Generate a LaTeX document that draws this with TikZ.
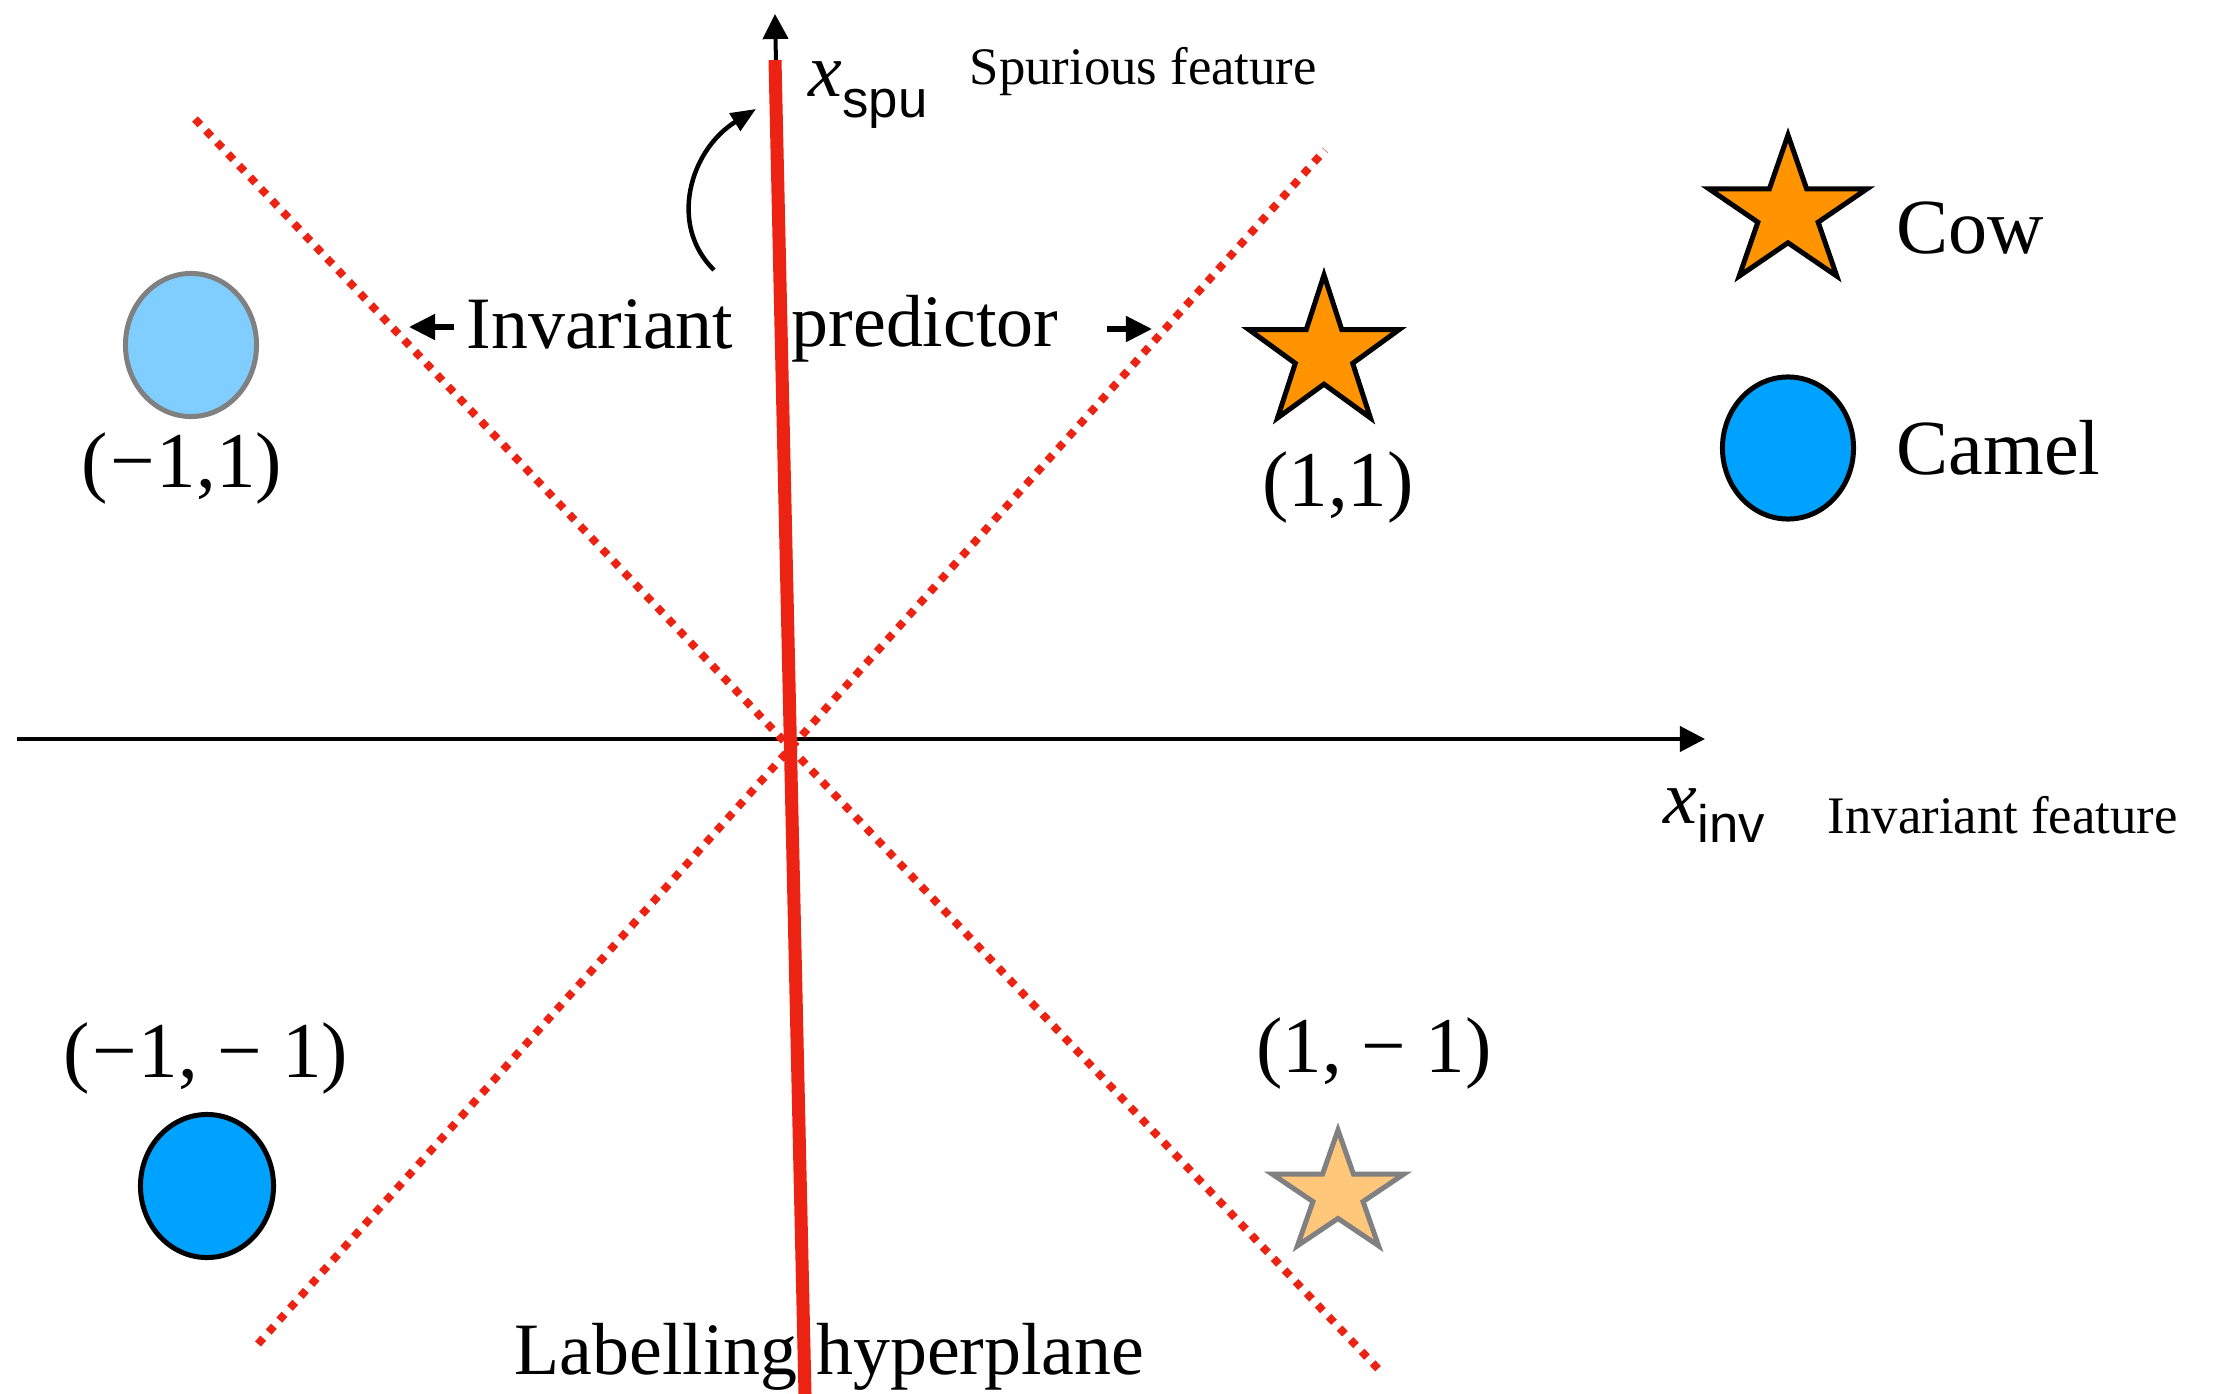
\documentclass[tikz,border=0pt]{standalone}
\usepackage{fontspec}
\setmainfont{Liberation Serif}
\setsansfont{Liberation Sans}
\usetikzlibrary{arrows.meta}
\definecolor{redl}{RGB}{236,34,18}
\definecolor{cowor}{RGB}{255,148,0}
\definecolor{cowlt}{RGB}{255,199,122}
\definecolor{camelb}{RGB}{0,162,255}
\definecolor{camellt}{RGB}{128,206,255}
\definecolor{edgegray}{RGB}{128,128,128}
\tikzset{
  starshape/.pic={\path[pic actions] (90:1) -- (126:0.382) -- (162:1) -- (198:0.382) -- (234:1) -- (270:0.382) -- (306:1) -- (342:0.382) -- (18:1) -- (54:0.382) -- cycle;},
  axisline/.style={line width=0.04cm, -{Triangle[length=0.25cm,width=0.25cm]}},
  hyper/.style={draw=redl, line width=0.13cm},
  predline/.style={draw=redl, line width=0.078cm, dash pattern=on 0.078cm off 0.082cm},
  smallarrow/.style={line width=0.05cm, -{Triangle[length=0.26cm,width=0.25cm]}},
  bigtxt/.style={inner sep=0pt, anchor=base west, font=\fontsize{21}{25}\selectfont},
  legtxt/.style={inner sep=0pt, anchor=base west, font=\fontsize{22.2}{27}\selectfont},
  ptlabel/.style={inner sep=0pt, anchor=base, font=\fontsize{22.5}{27}\selectfont},
  smalltxt/.style={inner sep=0pt, anchor=base west, font=\fontsize{15}{18}\selectfont},
  dark/.style={draw=black, line width=0.05cm, line join=miter},
  faded/.style={draw=edgegray, line width=0.05cm, line join=miter},
}
\newcommand{\mns}{\hspace{0.02cm}−\hspace{0.02cm}}
\begin{document}
\begin{tikzpicture}[x=0.01cm,y=0.01cm]
\useasboundingbox (0,0) rectangle (2214,-1394);
\fill[white] (0,0) rectangle (2214,-1394);

% key points
\coordinate (O) at (790,-739);
\coordinate (xL) at (17,-739);
\coordinate (xR) at (1705,-739);
\coordinate (yT) at (775,-14);
\coordinate (hT) at (775,-60);
\coordinate (hB) at (805,-1394);
\coordinate (pA1) at (258,-1344);
\coordinate (pA2) at (1325,-150);
\coordinate (pB1) at (195,-119);
\coordinate (pB2) at (1383,-1374);

% axes
\draw[axisline] (xL) -- (xR);
\draw[axisline] (O) -- (yT);

% invariant predictors (dotted)
\draw[predline] (pA1) -- (pA2);
\draw[predline] (pB1) -- (pB2);

% labelling hyperplane
\draw[hyper] (hT) -- (hB);

% axis labels
\node[inner sep=0pt, anchor=base west] (xspu) at (808,-97)
  {\fontsize{21.6}{26}\selectfont\textit{x}\raisebox{-0.2cm}{\fontsize{15}{18}\selectfont\sffamily spu}};
\node[smalltxt] (spur) at (969,-85) {Spurious feature};
\node[inner sep=0pt, anchor=base west] (xinv) at (1663,-823)
  {\fontsize{21.6}{26}\selectfont\textit{x}\raisebox{-0.19cm}{\fontsize{15}{18}\selectfont\sffamily inv}};
\node[smalltxt] (invf) at (1827,-833) {Invariant feature};

% rotation arrow
\coordinate (rS) at (714,-270);
\coordinate (rE) at (756,-109);
\draw[line width=0.045cm, -{Triangle[length=0.25cm,width=0.2cm]}] (rS) .. controls (668,-225) and (690,-150) .. (rE);

% invariant predictor label
\node[bigtxt] (invw) at (466,-348) {Invariant};
\node[bigtxt] (predw) at (791,-347) {predictor};
\coordinate (laT) at (454,-327);
\coordinate (laH) at (409,-327);
\coordinate (raT) at (1107,-329);
\coordinate (raH) at (1152,-329);
\draw[smallarrow] (laT) -- (laH);
\draw[smallarrow] (raT) -- (raH);

% labelling hyperplane label
\node[bigtxt] (lab) at (514,-1374) {Labelling hyperplane};

% data points
\coordinate (c11) at (191,-345);
\coordinate (cmm) at (207,-1186);
\coordinate (s11) at (1324,-354);
\coordinate (s1m) at (1338,-1194);
\fill[camellt] (c11) ellipse [x radius=0.655cm, y radius=0.715cm];
\draw[faded] (c11) ellipse [x radius=0.655cm, y radius=0.715cm];
\fill[camelb] (cmm) ellipse [x radius=0.665cm, y radius=0.715cm];
\draw[dark] (cmm) ellipse [x radius=0.665cm, y radius=0.715cm];
\pic[dark, fill=cowor, xscale=79, yscale=79] at (s11) {starshape};
\pic[faded, fill=cowlt, xscale=69, yscale=64] at (s1m) {starshape};

\node[ptlabel] (l1) at (182,-488) {(\mns1,1)};
\node[ptlabel] (l2) at (1338,-506) {(1,1)};
\node[ptlabel] (l3) at (206,-1077) {(\mns1, − 1)};
\node[ptlabel] (l4) at (1374,-1072) {(1, − 1)};

% legend
\coordinate (legS) at (1788,-213);
\coordinate (legC) at (1788,-448);
\pic[dark, fill=cowor, xscale=83, yscale=78] at (legS) {starshape};
\fill[camelb] (legC) ellipse [x radius=0.655cm, y radius=0.71cm];
\draw[dark] (legC) ellipse [x radius=0.655cm, y radius=0.71cm];
\node[legtxt] (cow) at (1896,-254) {Cow};
\node[legtxt] (camel) at (1896,-475) {Camel};
\end{tikzpicture}
\end{document}
